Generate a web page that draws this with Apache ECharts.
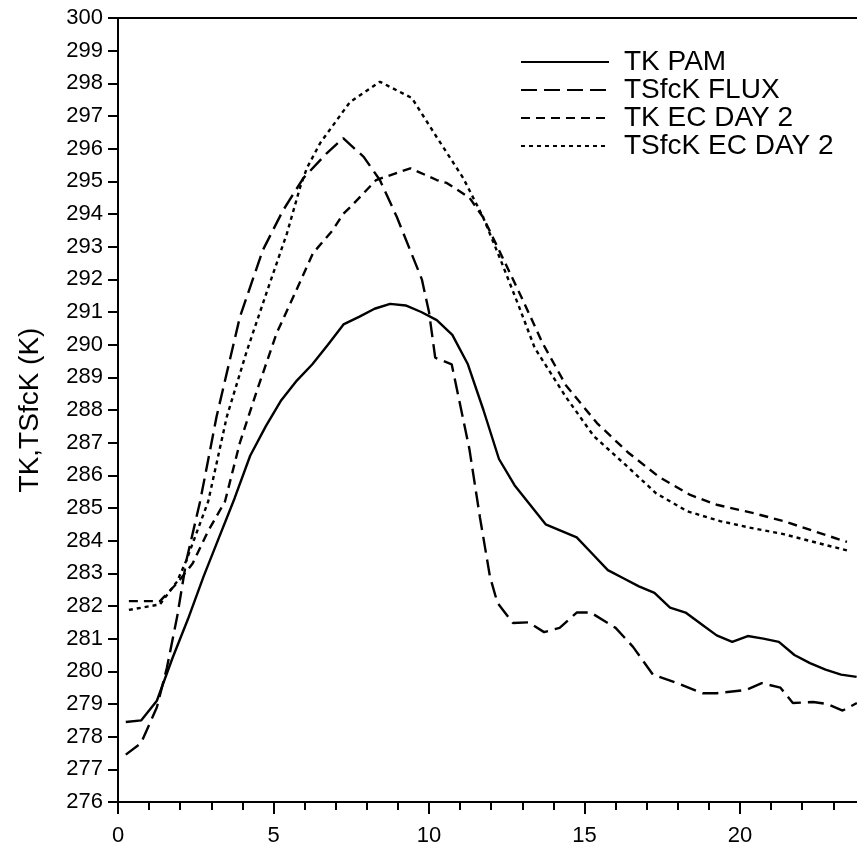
<!DOCTYPE html>
<html>
<head>
<meta charset="utf-8">
<script src="https://cdn.jsdelivr.net/npm/echarts@6/dist/echarts.min.js"></script>
<style>
html,body{margin:0;padding:0;background:#fff;}
#chart{width:857px;height:847px;}
</style>
</head>
<body>
<div id="chart"></div>
<script>
// Hours and values
var pamHours = [0.25,0.75,1.25,1.75,2.25,2.75,3.25,3.75,4.25,4.75,5.25,5.75,6.25,6.75,7.25,7.75,8.25,8.75,9.25,9.75,10.25,10.75,11.25,11.75,12.25,12.75,13.25,13.75,14.25,14.75,15.25,15.75,16.25,16.75,17.25,17.75,18.25,18.75,19.25,19.75,20.25,20.75,21.25,21.75,22.25,22.75,23.25,23.75];
var pamTK = [278.45,278.5,279.1,280.4,281.6,282.9,284.1,285.3,286.6,287.5,288.3,288.9,289.4,290.0,290.62,290.85,291.1,291.25,291.2,291.0,290.75,290.3,289.4,288.0,286.5,285.7,285.1,284.5,284.3,284.1,283.6,283.1,282.85,282.6,282.4,281.95,281.8,281.45,281.1,280.9,281.08,281.0,280.9,280.5,280.25,280.05,279.9,279.83];

var fluxHours = [0.25,0.74,1.25,1.57,1.9,2.2,2.64,3.17,3.92,4.66,5.3,5.96,6.7,7.24,7.9,8.42,8.97,9.77,10.0,10.2,10.73,11.3,11.64,11.96,12.2,12.7,13.2,13.7,14.2,14.75,15.2,16.0,16.56,17.2,17.97,18.8,19.25,20.2,20.7,21.3,21.7,22.35,22.8,23.3,23.76];
var fluxTSfcK = [277.45,277.8,278.9,280.1,281.66,283.4,285.2,287.8,290.85,292.9,294.1,295.1,295.85,296.32,295.75,295.04,293.9,292.0,291.0,289.6,289.4,286.8,284.7,282.9,282.1,281.48,281.5,281.2,281.33,281.8,281.8,281.33,280.75,279.9,279.64,279.33,279.33,279.43,279.64,279.5,279.03,279.06,279.0,278.8,279.03];

var ecHours = [0.35,1.35,1.9,2.4,2.9,3.44,3.92,4.47,5.1,5.63,6.27,6.9,7.24,7.46,8.3,9.4,10.25,10.57,11.3,11.74,12.5,13.0,13.65,14.4,15.4,16.4,17.4,18.4,19.25,20.4,21.4,22.35,23.44];
var ecTK = [282.15,282.15,282.7,283.3,284.3,285.2,287.0,288.6,290.35,291.45,292.8,293.5,294.0,294.2,295.04,295.4,295.04,294.95,294.5,293.9,292.4,291.4,290.05,288.76,287.6,286.7,285.95,285.4,285.1,284.85,284.6,284.3,283.96];

var ecSfcHours = [0.35,1.35,1.9,2.2,2.9,3.5,4.14,4.78,5.43,5.85,6.07,6.5,7.46,8.42,9.45,10.25,11.1,11.74,12.3,12.9,13.4,14.4,15.3,16.4,17.3,18.3,19.36,20.3,21.4,22.5,23.44];
var ecTSfcK = [281.88,282.05,282.75,283.4,285.2,287.8,289.8,291.6,293.4,294.8,295.4,296.17,297.43,298.05,297.55,296.35,295.1,293.9,292.6,291.15,289.9,288.4,287.2,286.25,285.45,284.9,284.6,284.4,284.2,283.93,283.7];

var seriesNames = ['TK PAM','TSfcK FLUX','TK EC DAY 2','TSfcK EC DAY 2'];
var xTickLabels = ['0','5','10','15','20'];
var yAxisTitle = 'TK,TSfcK (K)';

function pairs(xs, ys){ return xs.map(function(x,i){ return [x, ys[i]]; }); }

var FONT = '"Liberation Sans", Arial, Helvetica, sans-serif';
var chart = echarts.init(document.getElementById('chart'), null, {renderer:'canvas'});
function lineSeries(name, data, type, width){
  return {
    name: name, type: 'line', data: data, showSymbol: false, symbol: 'none',
    smooth: false, animation: false,
    lineStyle: {color:'#000', width: width, type: type},
    itemStyle: {color:'#000'}
  };
}
chart.setOption({
  backgroundColor: '#fff',
  animation: false,
  textStyle: {fontFamily: FONT, color:'#000'},
  grid: {left: 118, top: 18, width: 777.5, height: 784, show: true, borderColor:'#000', borderWidth: 2,
         containLabel:false, outerBoundsMode: 'none'},
  legend: {
    orient: 'vertical', left: 520, top: 48, itemWidth: 88, itemHeight: 14, itemGap: 0,
    padding: 0,
    data: seriesNames,
    itemStyle: {opacity: 0},
    textStyle: {fontSize: 28, fontFamily: FONT, color:'#000', padding:[0,0,0,10], lineHeight: 28}
  },
  xAxis: {
    type: 'value', min: 0, max: 25, interval: 5,
    axisLine: {lineStyle: {color:'#000', width: 2}},
    axisTick: {show: true, length: 12, lineStyle:{color:'#000', width:2}},
    minorTick: {show: true, splitNumber: 5, length: 8, lineStyle:{color:'#000', width:2}},
    splitLine: {show:false},
    axisLabel: {fontSize: 22, color:'#000', fontFamily: FONT, margin: 23,
      formatter: function(v){ var s = String(v); return xTickLabels.indexOf(s) >= 0 ? s : ''; }}
  },
  yAxis: {
    type: 'value', min: 276, max: 300, interval: 1,
    name: yAxisTitle, nameLocation: 'middle', nameGap: 74,
    nameTextStyle: {fontSize: 28, color:'#000', fontFamily: FONT},
    axisLine: {show: true, lineStyle: {color:'#000', width: 2}},
    axisTick: {show: true, length: 10, lineStyle:{color:'#000', width:2}},
    splitLine: {show:false},
    axisLabel: {fontSize: 22, color:'#000', fontFamily: FONT, margin: 15}
  },
  series: [
    lineSeries(seriesNames[0], pairs(pamHours, pamTK), 'solid', 2.4),
    lineSeries(seriesNames[1], pairs(fluxHours, fluxTSfcK), [16,7], 2.4),
    lineSeries(seriesNames[2], pairs(ecHours, ecTK), [9,6], 2.4),
    lineSeries(seriesNames[3], pairs(ecSfcHours, ecTSfcK), [4,4], 2.4)
  ]
});
</script>
</body>
</html>
